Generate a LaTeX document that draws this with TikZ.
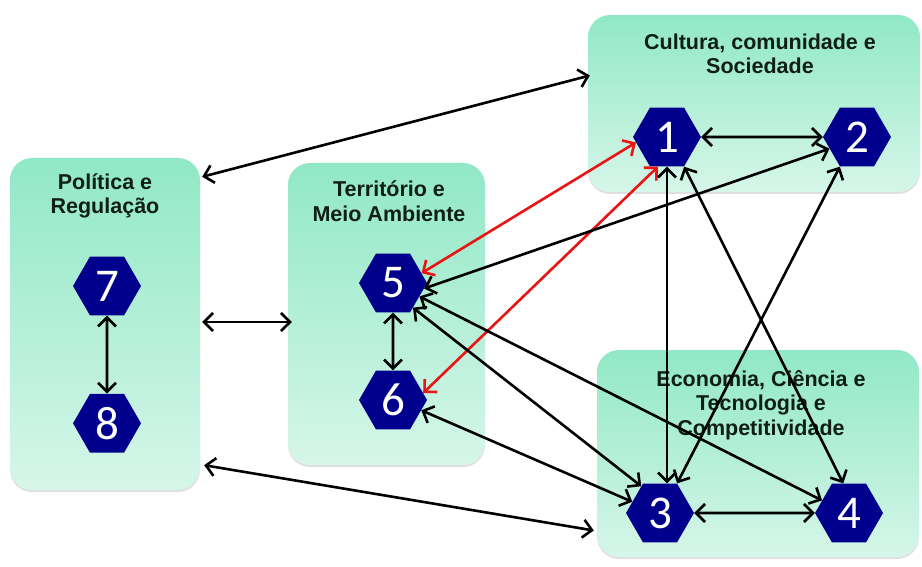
\documentclass[tikz,border=0pt]{standalone}
\usepackage{fontspec}
\usepackage{tikz}
\usetikzlibrary{arrows.meta, shapes.geometric, shadows, positioning}
\newfontfamily\titlefont{Liberation Sans}
\newfontfamily\numfont{Carlito}
\definecolor{mintTop}{RGB}{145, 232, 198}
\definecolor{mintBottom}{RGB}{214, 246, 233}
\definecolor{hexBlue}{RGB}{0, 0, 140}
\definecolor{titleInk}{RGB}{15, 30, 22}
\definecolor{linkRed}{RGB}{235, 20, 20}

\begin{document}
\begin{tikzpicture}[x=1pt, y=-1pt,
    area/.style={rounded corners=22pt, top color=mintTop, bottom color=mintBottom, draw=none,
        drop shadow={shadow xshift=0pt, shadow yshift=-2pt, opacity=0.25}},
    areatitle/.style={font=\titlefont\bfseries\fontsize{21.5}{24.5}\selectfont, text=titleInk, align=center, inner sep=0pt},
    hexa/.style={regular polygon, regular polygon sides=6, minimum size=68pt, inner sep=0pt,
        fill=hexBlue, text=white, font=\numfont\fontsize{47}{47}\selectfont},
    link/.style={<->, >={Straight Barb[length=9pt,width=18pt]}, line width=2.6pt, black},
    redlink/.style={link, linkRed}]
    \useasboundingbox (0,0) rectangle (922,567);

    % Areas
    \node[area, minimum width=190pt, minimum height=332pt] (pol) at (105,324) {};
    \node[area, minimum width=197pt, minimum height=302pt] (ter) at (386.5,314) {};
    \node[area, minimum width=332pt, minimum height=177pt] (cul) at (754,103.5) {};
    \node[area, minimum width=322pt, minimum height=207pt] (eco) at (758,453.5) {};

    % Titles
    \node[areatitle] (polTitle) at (105,196) {Política e\\Regulação};
    \node[areatitle] (terTitle) at (389,201) {Território e\\Meio Ambiente};
    \node[areatitle] (culTitle) at (760,54) {Cultura, comunidade e\\Sociedade};
    \node[areatitle] (ecoTitle) at (761,405) {Economia, Ciência e\\Tecnologia e\\Competitividade};

    % Hexagons
    \node[hexa] (n7) at (107,286) {7};
    \node[hexa, below=78pt of n7] (n8) {8};
    \node[hexa] (n5) at (393,283) {5};
    \node[hexa] (n6) at (393,400) {6};
    \node[hexa] (n1) at (667,137) {1};
    \node[hexa] (n2) at (857,137) {2};
    \node[hexa] (n3) at (660,513) {3};
    \node[hexa] (n4) at (849,513) {4};

    % Links between areas
    \draw[link] ([xshift=2pt,yshift=-19pt]pol.north east) -- ([xshift=2pt,yshift=28pt]cul.west);
    \draw[link] ([xshift=2pt,yshift=2pt]pol.east) -- ([xshift=4pt,yshift=2pt]pol.east -| ter.west);
    \draw[link] ([xshift=4pt,yshift=25pt]pol.south east) -- ([xshift=-3pt,yshift=-77pt]eco.west);

    % Links inside areas
    \draw[link] (n7) -- (n8);
    \draw[link] (n5) -- (n6);
    \draw[link] (n1) -- (n2);
    \draw[link] (n3) -- (n4);

    % Links between factors
    \draw[redlink] (n5.19) -- (n1.190);
    \draw[redlink] (n6.13) -- (n1.-107);
    \draw[link] (n5.-10) -- (n2.203);
    \draw[link] (n5.-27) -- (n4.155);
    \draw[link] (n5.-51) -- (n3.125);
    \draw[link] (n6.-20) -- (n3.158);
    \draw[link] (n1.south) -- (n1.south |- n3.north);
    \draw[link] (n1.-60) -- (n4.101);
    \draw[link] (n2.-120) -- (n3.60);
\end{tikzpicture}
\end{document}
